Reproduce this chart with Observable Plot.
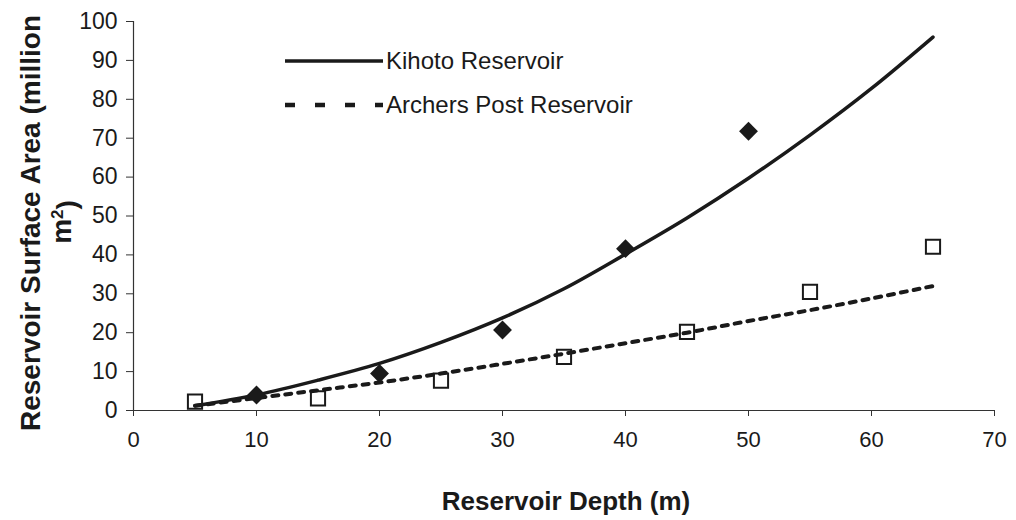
<!DOCTYPE html>
<html>
<head>
<meta charset="utf-8">
<script src="https://cdn.jsdelivr.net/npm/d3@7"></script>
<script src="https://cdn.jsdelivr.net/npm/@observablehq/plot@0.6"></script>
<style>
  html, body { margin: 0; padding: 0; background: #fff; }
  #chart svg { display: block; }
</style>
</head>
<body>
<div id="chart"></div>
<script>
// Observed points
const kihotoDepth = [10, 20, 30, 40, 50];
const kihotoArea = [4.0, 9.5, 20.7, 41.6, 71.8];
const archersDepth = [5, 15, 25, 35, 45, 55, 65];
const archersArea = [2.3, 3.1, 7.7, 13.8, 20.2, 30.5, 42.1];

// Trend lines
const trendDepth = [5, 10, 15, 20, 25, 30, 35, 40, 45, 50, 55, 60, 65];
const kihotoTrend = [1.2, 4.0, 7.8, 12.1, 17.5, 23.8, 31.3, 40.2, 49.5, 59.7, 70.8, 82.8, 96.0];
const archersTrend = [1.2, 3.2, 5.2, 7.2, 9.5, 12.0, 14.6, 17.3, 20.0, 23.0, 25.8, 28.8, 32.0];

// Axes
const xTicks = [0, 10, 20, 30, 40, 50, 60, 70];
const yTicks = [0, 10, 20, 30, 40, 50, 60, 70, 80, 90, 100];

// Labels
const xTitle = "Reservoir Depth (m)";
const yTitleLine1 = "Reservoir Surface Area (million";
const yTitleLine2 = "m";
const seriesNames = ["Kihoto Reservoir", "Archers Post Reservoir"];

const kPts = kihotoDepth.map((d, i) => ({depth: d, area: kihotoArea[i]}));
const aPts = archersDepth.map((d, i) => ({depth: d, area: archersArea[i]}));
const kTrend = trendDepth.map((d, i) => ({depth: d, area: kihotoTrend[i]}));
const aTrend = trendDepth.map((d, i) => ({depth: d, area: archersTrend[i]}));

const ink = "#1a1a1a";

const chart = Plot.plot({
  width: 1016,
  height: 520,
  marginLeft: 133,
  marginRight: 22,
  marginTop: 21,
  marginBottom: 110,
  style: {fontFamily: "'Liberation Sans', Arial, sans-serif", color: ink, background: "#fff"},
  x: {domain: [0, 70]},
  y: {domain: [0, 100]},
  marks: [
    Plot.axisY({ticks: yTicks, tickSize: 7, tickPadding: 9, fontSize: 23, label: null, stroke: "#333"}),
    Plot.axisX({ticks: xTicks, tickSize: 6, tickPadding: 15, fontSize: 22, label: null, stroke: "#333"}),
    Plot.ruleY([0], {stroke: "#333", strokeWidth: 1.2}),
    Plot.ruleX([0], {stroke: "#333", strokeWidth: 1.2}),
    Plot.line(aTrend, {x: "depth", y: "area", stroke: ink, strokeWidth: 4, strokeDasharray: "6,7", curve: "catmull-rom"}),
    Plot.line(kTrend, {x: "depth", y: "area", stroke: ink, strokeWidth: 3.5, curve: "catmull-rom"}),
    Plot.dot(kPts, {x: "depth", y: "area", symbol: "diamond2", r: 8.5, fill: ink, stroke: "none"}),
    Plot.dot(aPts, {x: "depth", y: "area", symbol: "square", r: 8, fill: "none", stroke: ink, strokeWidth: 2})
  ]
});

const svg = d3.select(chart);

// Axis titles
svg.append("text")
  .attr("x", 566).attr("y", 501)
  .attr("text-anchor", "middle").attr("dy", "0.35em")
  .attr("font-size", 26).attr("font-weight", "bold").attr("fill", ink)
  .text(xTitle);

svg.append("text")
  .attr("transform", "translate(30,223) rotate(-90)")
  .attr("text-anchor", "middle").attr("dy", "0.35em")
  .attr("font-size", 28).attr("font-weight", "bold").attr("fill", ink)
  .text(yTitleLine1);

const yt2 = svg.append("text")
  .attr("transform", "translate(61,222) rotate(-90)")
  .attr("text-anchor", "middle").attr("dy", "0.35em")
  .attr("font-size", 28).attr("font-weight", "bold").attr("fill", ink);
yt2.append("tspan").text(yTitleLine2);
yt2.append("tspan").attr("dy", "-0.45em").attr("font-size", 17).text("2");
yt2.append("tspan").attr("dy", "0.45em").text(")");

// Legend
const leg = svg.append("g");
leg.append("line").attr("x1", 285).attr("x2", 383).attr("y1", 61).attr("y2", 61)
  .attr("stroke", ink).attr("stroke-width", 3.5);
leg.append("text").attr("x", 386).attr("y", 61).attr("dy", "0.35em")
  .attr("text-anchor", "start")
  .attr("font-size", 24).attr("fill", ink).text(seriesNames[0]);
leg.append("line").attr("x1", 285).attr("x2", 383).attr("y1", 105).attr("y2", 105)
  .attr("stroke", ink).attr("stroke-width", 4.5).attr("stroke-dasharray", "10,20");
leg.append("text").attr("x", 386).attr("y", 105).attr("dy", "0.35em")
  .attr("text-anchor", "start")
  .attr("font-size", 24).attr("fill", ink).text(seriesNames[1]);

document.getElementById("chart").appendChild(chart);
</script>
</body>
</html>
